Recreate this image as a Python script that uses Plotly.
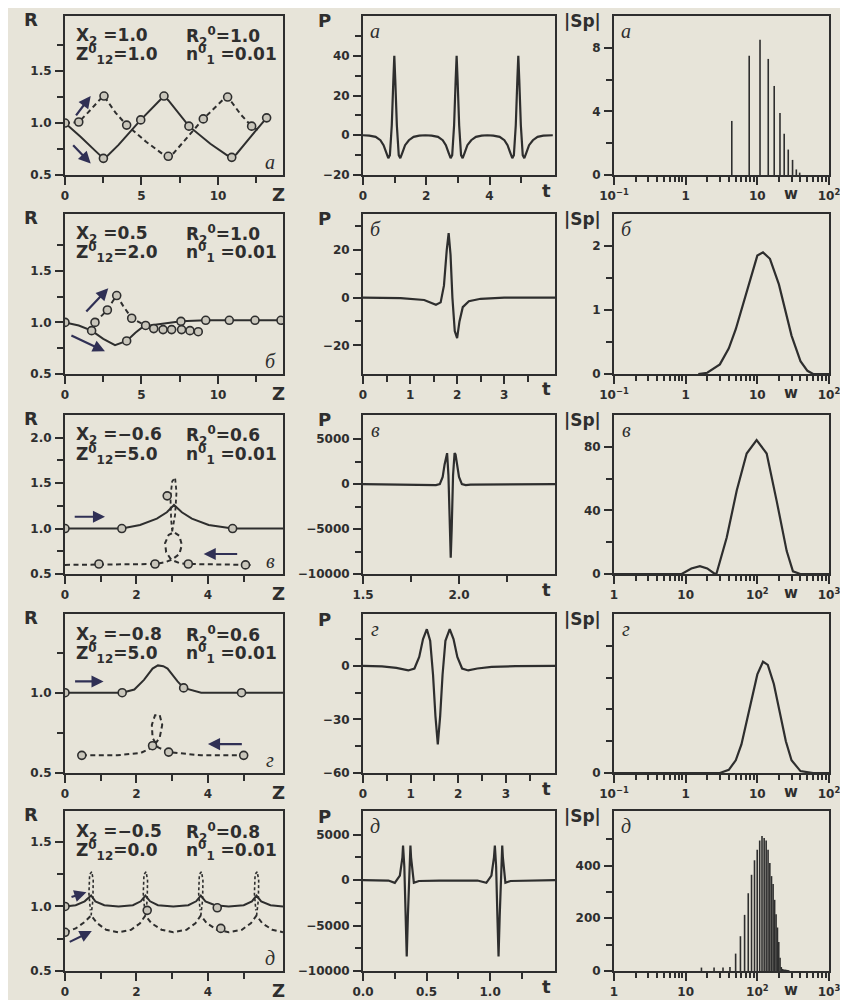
import plotly.graph_objects as go

# page is drawn with an 8px body margin -> design in screen pixels, then offset
OX, OY = 8, 8
W, H = 840, 992
INK = '#2e2e2e'
BG = '#e7e4d9'
ARROW = '#303055'
MFILL = '#c9c6bb'

# ---------------- column 1 : R(Z) ----------------
# panel a
a_sol_z = [0, 1.0, 2.0, 2.3, 2.51, 2.75, 3.5, 4.95, 6.2, 6.47, 6.75, 8.1, 9.5, 10.6, 10.9, 11.2, 12.2, 13.18]
a_sol_R = [1.0, 0.87, 0.73, 0.685, 0.66, 0.68, 0.79, 1.03, 1.22, 1.26, 1.22, 0.97, 0.8, 0.69, 0.67, 0.7, 0.88, 1.05]
a_solm_z = [0, 2.51, 4.95, 6.47, 8.1, 10.9, 13.18]
a_solm_R = [1.0, 0.66, 1.03, 1.26, 0.97, 0.67, 1.05]
a_das_z = [0, 0.9, 1.5, 2.1, 2.4, 2.55, 2.75, 3.3, 4.03, 5.3, 6.4, 6.75, 7.1, 8.0, 9.04, 10.3, 10.63, 10.9, 11.5, 12.2, 12.63]
a_das_R = [1.0, 1.01, 1.1, 1.2, 1.245, 1.26, 1.22, 1.1, 0.98, 0.82, 0.70, 0.68, 0.71, 0.86, 1.04, 1.22, 1.25, 1.2, 1.08, 0.97, 0.93]
a_dasm_z = [0.9, 2.55, 4.03, 6.75, 9.04, 10.63, 12.2]
a_dasm_R = [1.01, 1.26, 0.98, 0.68, 1.04, 1.25, 0.97]

# panel b
b_sol_z = [0, 0.9, 1.74, 2.5, 3.27, 4.03, 4.6, 5.12, 6.0, 7.58, 9.2, 10.74, 12.42, 14.12]
b_sol_R = [1.0, 0.97, 0.92, 0.84, 0.78, 0.82, 0.9, 0.96, 0.98, 1.01, 1.02, 1.02, 1.02, 1.02]
b_solm_z = [0, 1.74, 4.03, 7.58, 9.2, 10.74, 12.42, 14.12]
b_solm_R = [1.0, 0.92, 0.82, 1.01, 1.02, 1.02, 1.02, 1.02]
b_das_z = [1.96, 2.4, 2.77, 3.1, 3.38, 3.8, 4.36, 5.27, 5.8, 6.41, 6.97, 7.62, 8.17, 8.71]
b_das_R = [1.0, 1.06, 1.12, 1.2, 1.26, 1.16, 1.04, 0.97, 0.94, 0.93, 0.93, 0.93, 0.92, 0.91]
b_dasm_z = [1.96, 2.77, 3.38, 4.36, 5.27, 5.8, 6.41, 6.97, 7.62, 8.17, 8.71]
b_dasm_R = [1.0, 1.12, 1.26, 1.04, 0.97, 0.94, 0.93, 0.93, 0.93, 0.92, 0.91]

# panel v
v_sol_z = [0, 1.59, 2.1, 2.57, 2.85, 3.05, 3.27, 3.55, 4.02, 4.69, 6.1]
v_sol_R = [1.0, 1.0, 1.04, 1.11, 1.18, 1.26, 1.18, 1.11, 1.04, 1.0, 1.0]
v_solm_z = [0, 1.59, 4.69]
v_solm_R = [1.0, 1.0, 1.0]
v_das_z = [0, 2.52, 2.8, 3.0, 3.2, 3.27, 3.2, 3.05, 2.9, 2.8, 2.83, 2.95, 3.05, 3.2, 3.45, 5.05, 5.2]
v_das_R = [0.6, 0.61, 0.63, 0.66, 0.72, 0.82, 0.92, 0.96, 0.93, 0.84, 0.74, 0.67, 0.645, 0.62, 0.61, 0.6, 0.6]
v_up_z = [3.0, 3.08, 3.12, 3.08, 3.0, 2.95, 2.97, 3.0]
v_up_R = [0.97, 1.15, 1.4, 1.56, 1.52, 1.35, 1.1, 0.97]
v_dasm_z = [0.95, 2.52, 2.86, 3.45, 5.05]
v_dasm_R = [0.61, 0.61, 1.36, 0.61, 0.6]

# panel g
g_sol_z = [0, 1.6, 1.94, 2.21, 2.45, 2.6, 2.75, 2.87, 3.15, 3.32, 3.81, 4.94, 6.1]
g_sol_R = [1.0, 1.0, 1.02, 1.08, 1.15, 1.17, 1.165, 1.15, 1.07, 1.03, 1.0, 1.0, 1.0]
g_solm_z = [0, 1.6, 3.32, 4.94]
g_solm_R = [1.0, 1.0, 1.03, 1.0]
g_das_z = [0.47, 1.46, 2.12, 2.45, 2.65, 2.72, 2.65, 2.52, 2.43, 2.45, 2.6, 2.9, 3.81, 5.0]
g_das_R = [0.61, 0.61, 0.625, 0.66, 0.72, 0.8, 0.86, 0.86, 0.8, 0.72, 0.66, 0.63, 0.61, 0.61]
g_dasm_z = [0.47, 2.45, 2.9, 5.0]
g_dasm_R = [0.61, 0.67, 0.63, 0.61]

# panel d
d_sol_z = [0, 0.3, 0.55, 0.73, 0.85, 1.1, 1.5, 1.9, 2.12, 2.25, 2.38, 2.6, 3.03, 3.45, 3.67, 3.8, 3.93, 4.2, 4.58, 5.0, 5.23, 5.36, 5.49, 5.75, 6.1]
d_sol_R = [1.0, 1.01, 1.04, 1.085, 1.04, 1.01, 1.0, 1.01, 1.04, 1.085, 1.04, 1.01, 1.0, 1.01, 1.04, 1.085, 1.04, 1.01, 1.0, 1.01, 1.04, 1.085, 1.04, 1.01, 1.0]
d_das_z = [0, 0.3, 0.55, 0.73, 0.9, 1.15, 1.5, 1.85, 2.1, 2.25, 2.42, 2.7, 3.03, 3.4, 3.65, 3.8, 3.97, 4.25, 4.58, 4.95, 5.2, 5.36, 5.52, 5.8, 6.1]
d_das_R = [0.8, 0.83, 0.88, 0.93, 0.87, 0.82, 0.8, 0.82, 0.87, 0.93, 0.87, 0.82, 0.8, 0.82, 0.87, 0.93, 0.87, 0.82, 0.8, 0.82, 0.87, 0.93, 0.87, 0.82, 0.8]
d_loop_z = [0.73, 0.78, 0.79, 0.75, 0.69, 0.67, 0.71, None,
            2.25, 2.3, 2.31, 2.27, 2.21, 2.19, 2.23, None,
            3.8, 3.85, 3.86, 3.82, 3.76, 3.74, 3.78, None,
            5.36, 5.41, 5.42, 5.38, 5.32, 5.3, 5.34]
d_loop_R = [0.93, 1.05, 1.2, 1.27, 1.25, 1.1, 0.97, None,
            0.93, 1.05, 1.2, 1.27, 1.25, 1.1, 0.97, None,
            0.93, 1.05, 1.2, 1.27, 1.25, 1.1, 0.97, None,
            0.93, 1.05, 1.2, 1.27, 1.25, 1.1, 0.97]
d_solm_z = [0, 4.26]
d_solm_R = [1.0, 0.99]
d_dasm_z = [0, 2.3, 4.36]
d_dasm_R = [0.8, 0.97, 0.83]

# ---------------- column 2 : P(t) ----------------
Pa_t = [0.00, 0.20, 0.40, 0.55, 0.65, 0.74, 0.80, 0.85, 0.91, 0.96, 0.99, 1.02, 1.07, 1.13, 1.18, 1.24, 1.33, 1.45, 1.60, 1.78, 1.97,
        2.17, 2.37, 2.52, 2.62, 2.71, 2.77, 2.82, 2.88, 2.93, 2.96, 2.99, 3.04, 3.10, 3.15, 3.21, 3.30, 3.42, 3.57, 3.75, 3.93,
        4.12, 4.32, 4.47, 4.57, 4.66, 4.72, 4.77, 4.83, 4.88, 4.91, 4.94, 4.99, 5.05, 5.10, 5.16, 5.25, 5.37, 5.52, 5.70, 5.90, 6.0]
Pa_P = [0, -0.2, -0.8, -2.5, -5, -9, -11.5, -10, 5, 28, 40, 28, 5, -10, -11.5, -9, -5, -2.5, -0.8, -0.2, 0,
        -0.2, -0.8, -2.5, -5, -9, -11.5, -10, 5, 28, 40, 28, 5, -10, -11.5, -9, -5, -2.5, -0.8, -0.2, 0,
        -0.2, -0.8, -2.5, -5, -9, -11.5, -10, 5, 28, 40, 28, 5, -10, -11.5, -9, -5, -2.5, -0.8, -0.2, 0, 0]

Pb_t = [0, 0.8, 1.3, 1.55, 1.65, 1.72, 1.78, 1.82, 1.86, 1.9, 1.95, 2.0, 2.05, 2.12, 2.25, 2.5, 3.0, 4.08]
Pb_P = [0, -0.2, -1, -3, -2, 5, 20, 27, 18, 0, -14, -17, -10, -4, -1.5, -0.5, 0, 0]

Pv_t = [1.5, 1.8, 1.88, 1.9, 1.915, 1.925, 1.933, 1.938, 1.945, 1.952, 1.957, 1.962, 1.969, 1.977, 1.982, 1.99, 2.0, 2.015, 2.035, 2.06, 2.5]
Pv_P = [0, -30, -100, 0, 800, 2200, 3300, 3450, 1000, -5000, -8200, -5000, 1000, 3450, 3300, 2200, 800, 0, -100, -50, 0]

Pg_t = [0, 0.4, 0.7, 0.95, 1.08, 1.18, 1.26, 1.34, 1.41, 1.47, 1.52, 1.57, 1.62, 1.67, 1.73, 1.82, 1.9, 1.98, 2.08, 2.21, 2.4, 2.7, 3.2, 4.03]
Pg_P = [0, -0.3, -1.2, -2.6, -1.5, 5, 15, 20.5, 14, -5, -28, -44, -28, -5, 14, 20.5, 15, 5, -1.5, -2.6, -1.5, -0.6, -0.2, 0]

Pd_t = [0, 0.2, 0.25, 0.29, 0.31, 0.315, 0.325, 0.335, 0.344, 0.353, 0.363, 0.373, 0.378, 0.4, 0.44, 0.6,
        0.9, 0.97, 1.01, 1.03, 1.037, 1.047, 1.057, 1.066, 1.075, 1.085, 1.095, 1.1, 1.12, 1.16, 1.3, 1.51]
Pd_P = [0, -50, -300, 500, 2500, 3800, 1500, -4000, -8400, -4000, 1500, 3800, 2500, -300, -100, -50,
        -50, -300, 500, 2500, 3800, 1500, -4000, -8400, -4000, 1500, 3800, 2500, -300, -100, -50, 0]

# ---------------- column 3 : |Sp|(w) ----------------
Sa_w = [4.4, 7.7, 10.9, 14.2, 17.2, 20.7, 23.7, 27.0, 31.0, 35.0, 39.0]
Sa_S = [3.4, 7.5, 8.5, 7.3, 5.6, 3.9, 2.6, 1.6, 0.95, 0.35, 0.15]

Sb_w = [1.5, 2, 3, 4, 5, 6, 8, 10, 12, 15, 20, 25, 30, 40, 50, 60, 100]
Sb_S = [0, 0.02, 0.15, 0.4, 0.7, 1.0, 1.5, 1.85, 1.9, 1.8, 1.4, 0.95, 0.6, 0.2, 0.05, 0, 0]

Sv_w = [1, 8.8, 12, 15.8, 20, 25.6, 27, 37.4, 51.6, 71, 97.7, 135, 186, 257, 314, 398, 1000]
Sv_S = [0, 0, 3.5, 4.9, 3.5, 0, 0.5, 22.9, 52.5, 75.8, 84.2, 75.8, 46, 14.4, 1.7, 0, 0]

Sg_w = [0.1, 3, 4, 5, 6, 8, 10, 12, 14, 17, 20, 25, 30, 40, 60, 100]
Sg_S = [0, 0, 0.05, 0.2, 0.45, 1.1, 1.55, 1.75, 1.7, 1.4, 1.0, 0.5, 0.2, 0.03, 0, 0]

Sd_w = [16.6, 24.9, 33.2, 41.5, 49.8, 58.1, 66.4, 74.7, 83.0, 91.3, 99.6, 107.9, 116.2, 124.5, 132.8, 141.1,
        149.4, 157.7, 166.0, 174.3, 182.6, 190.9, 199.2, 207.5, 215.8, 224.1, 232.4, 240.7, 249.0, 257.3, 265.6, 273.9]
Sd_S = [13, 13, 13, 15, 66, 132, 213, 295, 365, 420, 460, 495, 512, 505, 495, 460,
        410, 360, 330, 270, 215, 165, 110, 50, 15, 8, 6, 5, 5, 4, 4, 3]

# ---------------- tick labels / panel texts ----------------
params = [
    ("X<sub>2</sub> =1.0", "R<sub>2</sub><sup>0</sup>=1.0", "Z<sup>0</sup><sub>12</sub>=1.0", "n<sup>0</sup><sub>1</sub> =0.01"),
    ("X<sub>2</sub> =0.5", "R<sub>2</sub><sup>0</sup>=1.0", "Z<sup>0</sup><sub>12</sub>=2.0", "n<sup>0</sup><sub>1</sub> =0.01"),
    ("X<sub>2</sub> =−0.6", "R<sub>2</sub><sup>0</sup>=0.6", "Z<sup>0</sup><sub>12</sub>=5.0", "n<sup>0</sup><sub>1</sub> =0.01"),
    ("X<sub>2</sub> =−0.8", "R<sub>2</sub><sup>0</sup>=0.6", "Z<sup>0</sup><sub>12</sub>=5.0", "n<sup>0</sup><sub>1</sub> =0.01"),
    ("X<sub>2</sub> =−0.5", "R<sub>2</sub><sup>0</sup>=0.8", "Z<sup>0</sup><sub>12</sub>=0.0", "n<sup>0</sup><sub>1</sub> =0.01"),
]
letters = ["а", "б", "в", "г", "д"]

log_ticks_01 = ["10<sup>−1</sup>", "1", "10", "10<sup>2</sup>"]
log_ticks_1 = ["1", "10", "10<sup>2</sup>", "10<sup>3</sup>"]

# ---------------- layout geometry (screen pixels) ----------------
col_px = [(65, 283), (363, 555), (614, 829)]
row_px = [(16, 175), (214, 374), (415, 574), (614, 773), (811, 971)]


def fx(px):
    return (px - OX) / W


def fy(py):
    return 1 - (py - OY) / H


fig = go.Figure()


def ax_id(r, c):
    return r * 3 + c + 1


def ref(k):
    return ("x" if k == 1 else f"x{k}"), ("y" if k == 1 else f"y{k}")


def add_line(k, x, y, dash=None, width=2.0):
    xr, yr = ref(k)
    fig.add_trace(go.Scatter(x=x, y=y, mode="lines", xaxis=xr, yaxis=yr, showlegend=False,
                             line=dict(color=INK, width=width, dash=dash), hoverinfo="skip"))


def add_marks(k, x, y):
    xr, yr = ref(k)
    fig.add_trace(go.Scatter(x=x, y=y, mode="markers", xaxis=xr, yaxis=yr, showlegend=False,
                             marker=dict(symbol="circle", size=8, color=MFILL, line=dict(color=INK, width=1.6)),
                             hoverinfo="skip"))


def add_sticks(k, w, s):
    xs, ys = [], []
    for wi, si in zip(w, s):
        xs += [wi, wi, None]
        ys += [0, si, None]
    add_line(k, xs, ys, width=1.6)


DASH = "5px,3.5px"
# column 1
add_line(1, a_sol_z, a_sol_R); add_line(1, a_das_z, a_das_R, DASH)
add_marks(1, a_solm_z, a_solm_R); add_marks(1, a_dasm_z, a_dasm_R)
add_line(4, b_sol_z, b_sol_R); add_line(4, b_das_z, b_das_R, DASH)
add_marks(4, b_solm_z, b_solm_R); add_marks(4, b_dasm_z, b_dasm_R)
add_line(7, v_sol_z, v_sol_R); add_line(7, v_das_z, v_das_R, DASH); add_line(7, v_up_z, v_up_R, "4px,3px", 1.8)
add_marks(7, v_solm_z, v_solm_R); add_marks(7, v_dasm_z, v_dasm_R)
add_line(10, g_sol_z, g_sol_R); add_line(10, g_das_z, g_das_R, DASH)
add_marks(10, g_solm_z, g_solm_R); add_marks(10, g_dasm_z, g_dasm_R)
add_line(13, d_sol_z, d_sol_R); add_line(13, d_das_z, d_das_R, DASH); add_line(13, d_loop_z, d_loop_R, "3px,2.5px", 1.6)
add_marks(13, d_solm_z, d_solm_R); add_marks(13, d_dasm_z, d_dasm_R)
# column 2
add_line(2, Pa_t, Pa_P, width=2.2)
add_line(5, Pb_t, Pb_P, width=2.2)
add_line(8, Pv_t, Pv_P, width=2.2)
add_line(11, Pg_t, Pg_P, width=2.2)
add_line(14, Pd_t, Pd_P, width=2.2)
# column 3
add_sticks(3, Sa_w, Sa_S)
add_line(6, Sb_w, Sb_S, width=2.2)
add_line(9, Sv_w, Sv_S, width=2.2)
add_line(12, Sg_w, Sg_S, width=2.2)
add_sticks(15, Sd_w, Sd_S)

# ---------------- axes ----------------
FONT = "DejaVu Sans"
tickfont = dict(family=FONT, size=12, color=INK, weight="bold")


def base_axis():
    return dict(showline=True, linecolor=INK, linewidth=2, mirror=True, ticks="outside", ticklen=8,
                tickwidth=2, tickcolor=INK, showgrid=False, zeroline=False, tickfont=tickfont,
                fixedrange=True, automargin=False, ticklabelstandoff=1)


specs = {
    1: ([0, 14.25], [0, 5, 10], ["0", "5", "10"], [2.5, 7.5, 12.5], False,
        [0.5, 2.03], [0.5, 1.0, 1.5], ["0.5", "1.0", "1.5"], [0.75, 1.25, 1.75]),
    4: ([0, 14.25], [0, 5, 10], ["0", "5", "10"], [2.5, 7.5, 12.5], False,
        [0.5, 2.05], [0.5, 1.0, 1.5], ["0.5", "1.0", "1.5"], [0.75, 1.25, 1.75]),
    7: ([0, 6.1], [0, 2, 4], ["0", "2", "4"], [1, 3, 5], False,
        [0.5, 2.25], [0.5, 1.0, 1.5, 2.0], ["0.5", "1.0", "1.5", "2.0"], [0.75, 1.25, 1.75]),
    10: ([0, 6.1], [0, 2, 4], ["0", "2", "4"], [1, 3, 5], False,
         [0.5, 1.49], [0.5, 1.0], ["0.5", "1.0"], [0.75, 1.25]),
    13: ([0, 6.1], [0, 2, 4], ["0", "2", "4"], [1, 3, 5], False,
         [0.5, 1.74], [0.5, 1.0, 1.5], ["0.5", "1.0", "1.5"], [0.75, 1.25]),
    2: ([0, 6.07], [0, 2, 4], ["0", "2", "4"], [1, 3, 5], False,
        [-20, 60], [-20, 0, 20, 40], ["−20", "0", "20", "40"], [-10, 10, 30, 50]),
    5: ([0, 4.08], [0, 1, 2, 3], ["0", "1", "2", "3"], [0.5, 1.5, 2.5, 3.5], False,
        [-32, 35], [-20, 0, 20], ["−20", "0", "20"], [-10, 10, 30]),
    8: ([1.5, 2.5], [1.5, 2.0], ["1.5", "2.0"], [1.75, 2.25], False,
        [-10000, 7700], [-10000, -5000, 0, 5000], ["−10000", "−5000", "0", "5000"], [-7500, -2500, 2500]),
    11: ([0, 4.03], [0, 1, 2, 3], ["0", "1", "2", "3"], [0.5, 1.5, 2.5, 3.5], False,
         [-60, 29], [-60, -30, 0], ["−60", "−30", "0"], [-45, -15, 15]),
    14: ([0, 1.51], [0, 0.5, 1.0], ["0.0", "0.5", "1.0"], [0.25, 0.75, 1.25], False,
         [-10000, 7600], [-10000, -5000, 0, 5000], ["−10000", "−5000", "0", "5000"], [-7500, -2500, 2500]),
    3: ([-1, 2], [0.1, 1, 10, 100], log_ticks_01, None, True,
        [0, 10], [0, 4, 8], ["0", "4", "8"], [2, 6]),
    6: ([-1, 2], [0.1, 1, 10, 100], log_ticks_01, None, True,
        [0, 2.5], [0, 1, 2], ["0", "1", "2"], [0.5, 1.5]),
    9: ([0, 3], [1, 10, 100, 1000], log_ticks_1, None, True,
        [0, 100], [0, 40, 80], ["0", "40", "80"], [20, 60]),
    12: ([-1, 2], [0.1, 1, 10, 100], log_ticks_01, None, True,
         [0, 2.5], [0], ["0"], [0.5, 1.0, 1.5, 2.0]),
    15: ([0, 3], [1, 10, 100, 1000], log_ticks_1, None, True,
         [0, 607], [0, 200, 400], ["0", "200", "400"], [100, 300, 500]),
}

layout_axes = {}
for r in range(5):
    for c in range(3):
        k = ax_id(r, c)
        xr_, xtv, xtt, xmin, xlog, yr_, ytv, ytt, ymin = specs[k]
        x0, x1 = col_px[c]
        t0, b0 = row_px[r]
        xa = base_axis()
        xa.update(domain=[fx(x0), fx(x1)], range=xr_, tickmode="array", tickvals=xtv, ticktext=xtt,
                  anchor=("y" if k == 1 else f"y{k}"))
        if xlog:
            lo = int(round(xr_[0]))
            hi = int(round(xr_[1]))
            mv = []
            for e in range(lo, hi):
                for m in range(2, 10):
                    mv.append(m * 10 ** e)
            xa.update(type="log", minor=dict(tickmode="array", tickvals=mv, ticks="outside", ticklen=5,
                                             tickwidth=1.6, tickcolor=INK))
        else:
            xa.update(minor=dict(tickmode="array", tickvals=xmin, ticks="outside", ticklen=6,
                                 tickwidth=2, tickcolor=INK))
        ya = base_axis()
        ya.update(domain=[fy(b0), fy(t0)], range=yr_, tickmode="array", tickvals=ytv, ticktext=ytt,
                  anchor=("x" if k == 1 else f"x{k}"),
                  minor=dict(tickmode="array", tickvals=ymin, ticks="outside", ticklen=6, tickwidth=2, tickcolor=INK))
        layout_axes["xaxis" if k == 1 else f"xaxis{k}"] = xa
        layout_axes["yaxis" if k == 1 else f"yaxis{k}"] = ya

annotations = []


def ptxt(px, py, text, size=17, xanchor="center", italic=False, family=FONT, weight="bold"):
    annotations.append(dict(xref="paper", yref="paper", x=fx(px), y=fy(py), text=text, showarrow=False,
                            xanchor=xanchor, yanchor="middle",
                            font=dict(family=family, size=size, color=INK, weight=weight,
                                      style=("italic" if italic else "normal"))))


for r in range(5):
    t0, b0 = row_px[r]
    # axis letters
    ptxt(31, t0 + 3, "R", 18)
    ptxt(278, b0 + 19, "Z", 18)
    ptxt(324, t0 + 5, "P", 18)
    ptxt(546, b0 + 15, "t", 18)
    ptxt(582, t0 + 5, "|Sp|", 17)
    ptxt(791, b0 + 19, "w", 15)
    # parameter block
    p = params[r]
    ptxt(74, t0 + 21, p[0], 17, "left")
    ptxt(184, t0 + 21, p[1], 17, "left")
    ptxt(74, t0 + 39, p[2], 17, "left")
    ptxt(184, t0 + 39, p[3], 17, "left")
    # panel letters
    ptxt(270, b0 - 13, letters[r], 20, italic=True, family="Liberation Serif", weight="normal")
    ptxt(375, t0 + 15, letters[r], 20, italic=True, family="Liberation Serif", weight="normal")
    ptxt(626, t0 + 15, letters[r], 20, italic=True, family="Liberation Serif", weight="normal")

# arrows (data coordinates of the R(Z) panels)
arrows = [
    (1, 0.65, 1.06, 1.68, 1.26), (1, 0.44, 0.80, 1.68, 0.61),
    (4, 1.3, 1.09, 2.83, 1.33), (4, 0.32, 0.88, 2.61, 0.72),
    (7, 0.23, 1.13, 1.12, 1.13), (7, 4.86, 0.72, 3.88, 0.72),
    (10, 0.24, 1.07, 1.08, 1.07), (10, 4.99, 0.68, 4.0, 0.68),
    (13, 0.14, 1.07, 0.6, 1.11), (13, 0.09, 0.72, 0.75, 0.81),
]
for k, xs, ys, xe, ye in arrows:
    xr, yr = ref(k)
    annotations.append(dict(xref=xr, yref=yr, axref=xr, ayref=yr, x=xe, y=ye, ax=xs, ay=ys, text="",
                            showarrow=True, arrowhead=2, arrowsize=1.1, arrowwidth=2.2, arrowcolor=ARROW))

fig.update_layout(width=W, height=H, autosize=False, margin=dict(l=0, r=0, t=0, b=0, pad=0),
                  paper_bgcolor=BG, plot_bgcolor=BG, showlegend=False, annotations=annotations,
                  **layout_axes)

fig.write_html("out.html")
